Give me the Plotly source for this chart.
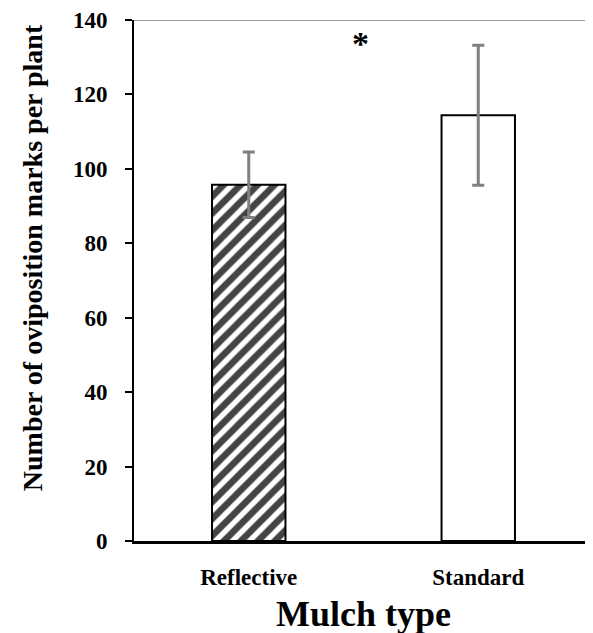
import plotly.graph_objects as go

categories = ["Reflective", "Standard"]
means = [95.7, 114.4]
errors = [8.8, 18.8]
y_ticks = [0, 20, 40, 60, 80, 100, 120, 140]
sig_label = "*"
sig_y = 133.6
y_title = "Number of oviposition marks per plant"
x_title = "Mulch type"

FONT = "Liberation Serif"

fig = go.Figure()
fig.add_trace(go.Bar(
    x=categories, y=means, width=0.32,
    marker=dict(
        color=["white", "white"],
        line=dict(color="black", width=2),
        pattern=dict(shape=["/", ""], fgcolor="black", bgcolor="white",
                     fgopacity=1, size=12, solidity=0.55, fillmode="overlay"),
    ),
    error_y=dict(type="data", array=errors, visible=True,
                 color="#808080", thickness=3, width=6),
    showlegend=False,
))

fig.add_annotation(x=0.485, y=sig_y, xref="x", yref="y", text="<b>" + sig_label + "</b>",
                   showarrow=False, font=dict(family=FONT, size=34, color="black"),
                   yanchor="middle")

fig.add_annotation(x=-0.222, y=0.543, xref="paper", yref="paper",
                   text="<b>" + y_title + "</b>", textangle=-90, showarrow=False,
                   xanchor="center", yanchor="middle",
                   font=dict(family=FONT, size=28, color="black"))

fig.add_annotation(x=0.5, y=-0.141, xref="paper", yref="paper",
                   text="<b>" + x_title + "</b>", showarrow=False,
                   xanchor="center", yanchor="middle",
                   font=dict(family=FONT, size=36, color="black"))

fig.add_shape(type="line", xref="paper", yref="y", x0=0, x1=1, y0=140, y1=140,
              line=dict(color="#a0a0a0", width=2))

fig.update_layout(
    width=585, height=625,
    margin=dict(l=126, r=0, t=10, b=92),
    plot_bgcolor="white", paper_bgcolor="white",
    font=dict(family=FONT, color="black"),
)
fig.update_xaxes(
    range=[-0.5, 1.5], showline=True, linecolor="black", linewidth=3,
    ticks="", tickfont=dict(family=FONT, size=23, color="black"),
    tickprefix="<b>", ticksuffix="</b>", ticklabelstandoff=13,
    showgrid=False,
)
fig.update_yaxes(
    range=[0, 140], tickvals=y_ticks, ticktext=["<b>%d</b>" % v for v in y_ticks],
    showline=True, linecolor="black", linewidth=2,
    ticks="outside", ticklen=7, tickwidth=2, tickcolor="black",
    tickfont=dict(family=FONT, size=23, color="black"), ticklabelstandoff=13,
    ticklabeloverflow="allow",
    showgrid=False, zeroline=False,
)

fig.write_html("out.html")
